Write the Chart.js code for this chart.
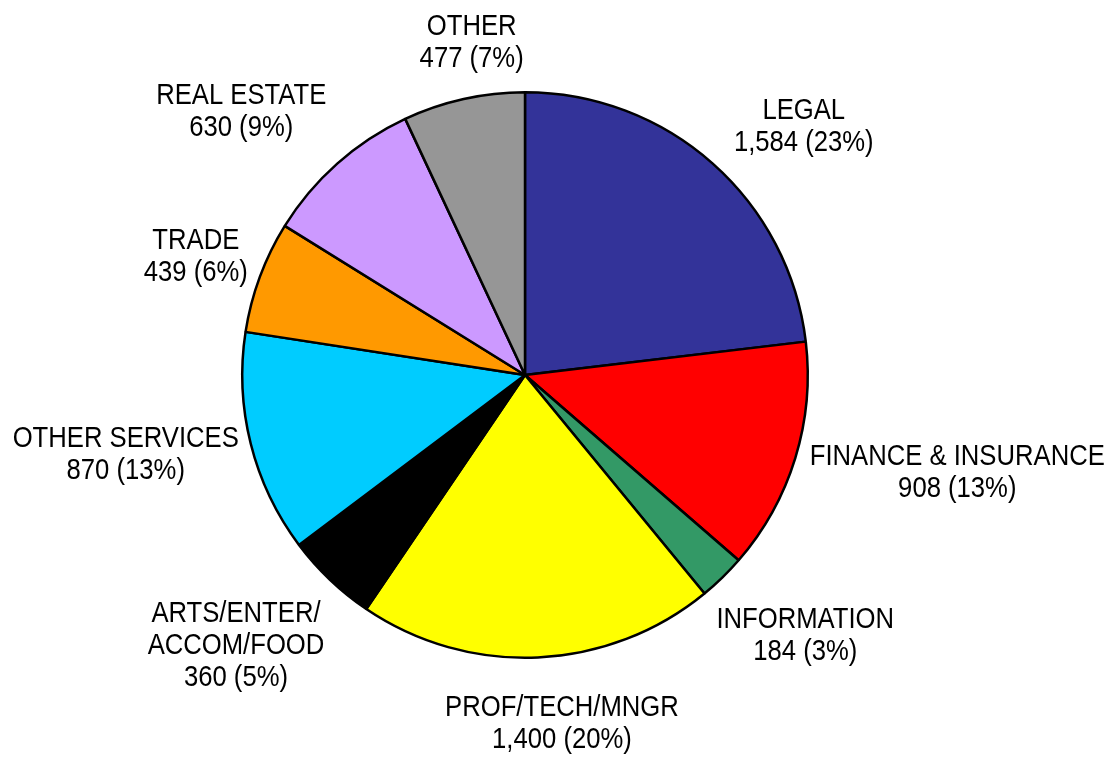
<!DOCTYPE html>
<html lang="en">
<head>
    <meta charset="UTF-8">
    <title>Pie by industry</title>
    <style>
        html, body { margin: 0; padding: 0; background: #fff; }
        #wrap { width: 1105px; height: 763px; position: relative; }
    </style>
</head>
<body>
    <div id="wrap"><canvas id="myChart"></canvas></div>

    <script src="https://cdn.jsdelivr.net/npm/chart.js"></script>
    <script>
        // slice names (multi-line names split into arrays) and counts
        const categories = [
            ['LEGAL'],
            ['FINANCE & INSURANCE'],
            ['INFORMATION'],
            ['PROF/TECH/MNGR'],
            ['ARTS/ENTER/', 'ACCOM/FOOD'],
            ['OTHER SERVICES'],
            ['TRADE'],
            ['REAL ESTATE'],
            ['OTHER']
        ];
        const counts = [1584, 908, 184, 1400, 360, 870, 439, 630, 477];
        const sliceColors = ['#333399', '#ff0000', '#339966', '#ffff00', '#000000',
                             '#00ccff', '#ff9900', '#cc99ff', '#969696'];

        // where each label block sits, relative to the middle of its slice's outer edge
        const labelShift = [[91, -39], [162, 12], [83, 56], [24, 64], [-94, 64],
                            [-125, 9], [-64, -23], [-96, -54], [8, -59]];

        const FONT = '30px "Liberation Sans", Arial, sans-serif';
        const SQUEEZE = 0.855;   // no narrow face installed, so condense by hand
        const LINE_H = 32;
        const CAP_HALF = 10.7;

        const outsideLabels = {
            id: 'outsideLabels',
            afterDatasetsDraw(chart) {
                const ctx = chart.ctx;
                const meta = chart.getDatasetMeta(0);
                const data = chart.data.datasets[0].data;
                const total = data.reduce((a, b) => a + b, 0);
                ctx.save();
                ctx.font = FONT;
                ctx.fillStyle = '#000';
                ctx.textAlign = 'center';
                ctx.textBaseline = 'alphabetic';
                meta.data.forEach((arc, i) => {
                    const p = arc.getProps(['x', 'y', 'startAngle', 'endAngle', 'outerRadius'], true);
                    const mid = (p.startAngle + p.endAngle) / 2;
                    const ex = p.x + Math.cos(mid) * p.outerRadius;
                    const ey = p.y + Math.sin(mid) * p.outerRadius;
                    const lines = categories[i].slice();
                    lines.push(data[i].toLocaleString('en-US') + ' (' + Math.round(data[i] / total * 100) + '%)');
                    const bx = ex + labelShift[i][0];
                    const by = ey + labelShift[i][1];
                    const top = by - (lines.length - 1) * LINE_H / 2;
                    lines.forEach((l, k) => {
                        ctx.save();
                        ctx.translate(bx, top + k * LINE_H + CAP_HALF);
                        ctx.scale(SQUEEZE, 1);
                        ctx.fillText(l, 0, 0);
                        ctx.restore();
                    });
                });
                ctx.restore();
            }
        };

        const ctx = document.getElementById('myChart').getContext('2d');
        const myChart = new Chart(ctx, {
            type: 'pie',
            data: {
                labels: categories,
                datasets: [{
                    data: counts,
                    backgroundColor: sliceColors,
                    borderColor: '#000000',
                    borderWidth: 2.5
                }]
            },
            options: {
                responsive: true,
                maintainAspectRatio: false,
                animation: false,
                layout: { padding: { top: 91, bottom: 104, left: 241, right: 296 } },
                plugins: {
                    legend: { display: false },
                    tooltip: { enabled: false }
                }
            },
            plugins: [outsideLabels]
        });
    </script>
</body>
</html>
